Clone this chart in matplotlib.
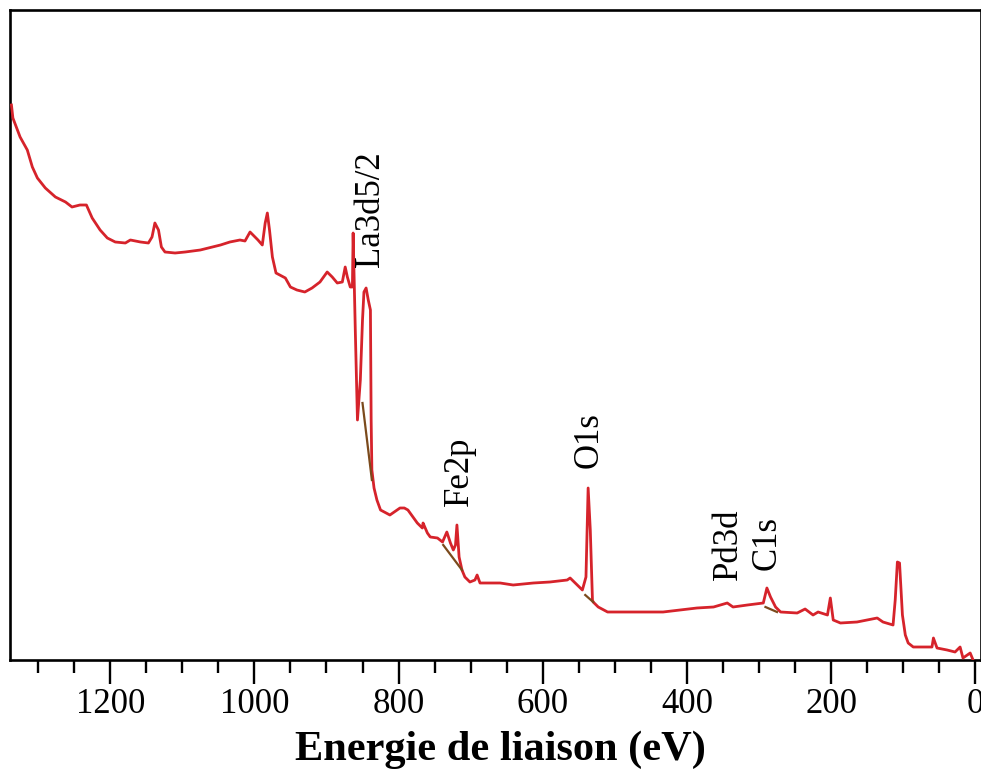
import matplotlib
matplotlib.use("Agg")
import matplotlib.pyplot as plt
from matplotlib.ticker import MultipleLocator, NullLocator

# ---- data ----
energy_ev = [1337, 1335, 1325, 1315, 1308, 1301, 1290, 1276, 1262, 1253, 1242, 1233,
             1225, 1214, 1204, 1193, 1179, 1172, 1158, 1147, 1142, 1138, 1133, 1129,
             1124, 1110, 1096, 1075, 1047, 1034, 1020, 1013, 1006, 999, 995, 989,
             985, 982, 979, 975, 970, 957, 950, 941, 930, 920, 909, 899, 892, 885,
             878, 874, 871, 867, 864, 863, 860, 857, 853, 850, 848, 845, 842, 839,
             838, 837, 834, 830, 825, 812, 798, 792, 787, 780, 774, 767, 766, 760,
             756, 746, 739, 733, 728, 724, 721, 719, 716, 712, 708, 701, 694, 691,
             687, 659, 641, 613, 590, 566, 562, 552, 545, 540, 537, 534, 531, 530,
             523, 510, 479, 433, 409, 386, 363, 344, 336, 316, 294, 289, 284, 277,
             270, 247, 236, 225, 218, 205, 201, 197, 187, 164, 150, 136, 128, 114,
             111, 108, 105, 101, 97, 93, 86, 60, 58, 53, 39, 28, 21, 17, 7, 3]
intensity = [555, 542, 523, 510, 493, 482, 472, 463, 458, 453, 455, 455,
             442, 430, 422, 418, 417, 420, 418, 417, 423, 437, 430, 413,
             408, 407, 408, 410, 415, 418, 420, 419, 428, 423, 420, 415,
             437, 447, 430, 403, 387, 382, 373, 370, 368, 372, 378, 388, 383, 377,
             378, 393, 383, 373, 373, 427, 330, 240, 280, 340, 368, 372, 360, 350,
             240, 190, 172, 160, 150, 145, 152, 152, 150, 143, 137, 132, 137, 127,
             123, 122, 118, 128, 117, 110, 115, 135, 103, 90, 83, 78, 80, 85,
             77, 77, 75, 77, 78, 80, 82, 75, 70, 83, 172, 130, 60, 58,
             53, 48, 48, 48, 50, 52, 53, 57, 53, 55, 57, 72, 63, 53,
             48, 47, 51, 45, 48, 45, 62, 40, 37, 38, 40, 42, 38, 35,
             60, 98, 97, 45, 25, 17, 13, 13, 22, 12, 10, 8, 13, 2, 7, 0]

# background (baseline) segments under the peaks: (start eV, end eV), (start I, end I)
bg_ev = [(850, 837), (738, 712), (541, 530), (291, 275)]
bg_int = [(257, 180), (115, 90), (65, 58), (53, 48)]

peak_labels = ["La3d5/2", "Fe2p", "O1s", "Pd3d", "C1s"]
label_ev = [839, 716, 535, 342, 289]
label_int = [393, 154, 192, 80, 90]

xticks_major = [1200, 1000, 800, 600, 400, 200, 0]

# ---- figure ----
W, H = 981, 769
fig = plt.figure(figsize=(W / 100, H / 100), dpi=100)
ax = fig.add_axes([10 / W, 1 - 660 / H, 971 / W, 650 / H])

serif = ["Liberation Serif", "DejaVu Serif"]

ax.plot(energy_ev, intensity, color="#d6232b", lw=2.0, zorder=3)
for (e0, e1), (i0, i1) in zip(bg_ev, bg_int):
    ax.plot([e0, e1], [i0, i1], color="#7b4a1c", lw=1.6, zorder=4)

for txt, ex, iy in zip(peak_labels, label_ev, label_int):
    ax.text(ex, iy, txt, rotation=90, ha="center", va="bottom",
            fontsize=25, family=serif, color="black", zorder=5)

ax.set_xlim(1339, -8)
ax.set_ylim(0, 650)

ax.set_xticks(xticks_major)
ax.xaxis.set_minor_locator(MultipleLocator(50))
ax.yaxis.set_major_locator(NullLocator())
ax.yaxis.set_minor_locator(NullLocator())

ax.tick_params(axis="x", which="major", direction="out", length=17.5, width=1.7,
               labelsize=25, pad=3)
ax.tick_params(axis="x", which="minor", direction="out", length=9, width=1.7)
for lab in ax.get_xticklabels():
    lab.set_family(serif)

for sp in ax.spines.values():
    sp.set_linewidth(1.9)

xl = ax.set_xlabel("Energie de liaison (eV)", fontsize=30.5, fontweight="bold",
                   family=serif)
ax.xaxis.set_label_coords(0.505, -0.154)
xl.set_va("baseline")

fig.savefig("out.png", dpi=100)
